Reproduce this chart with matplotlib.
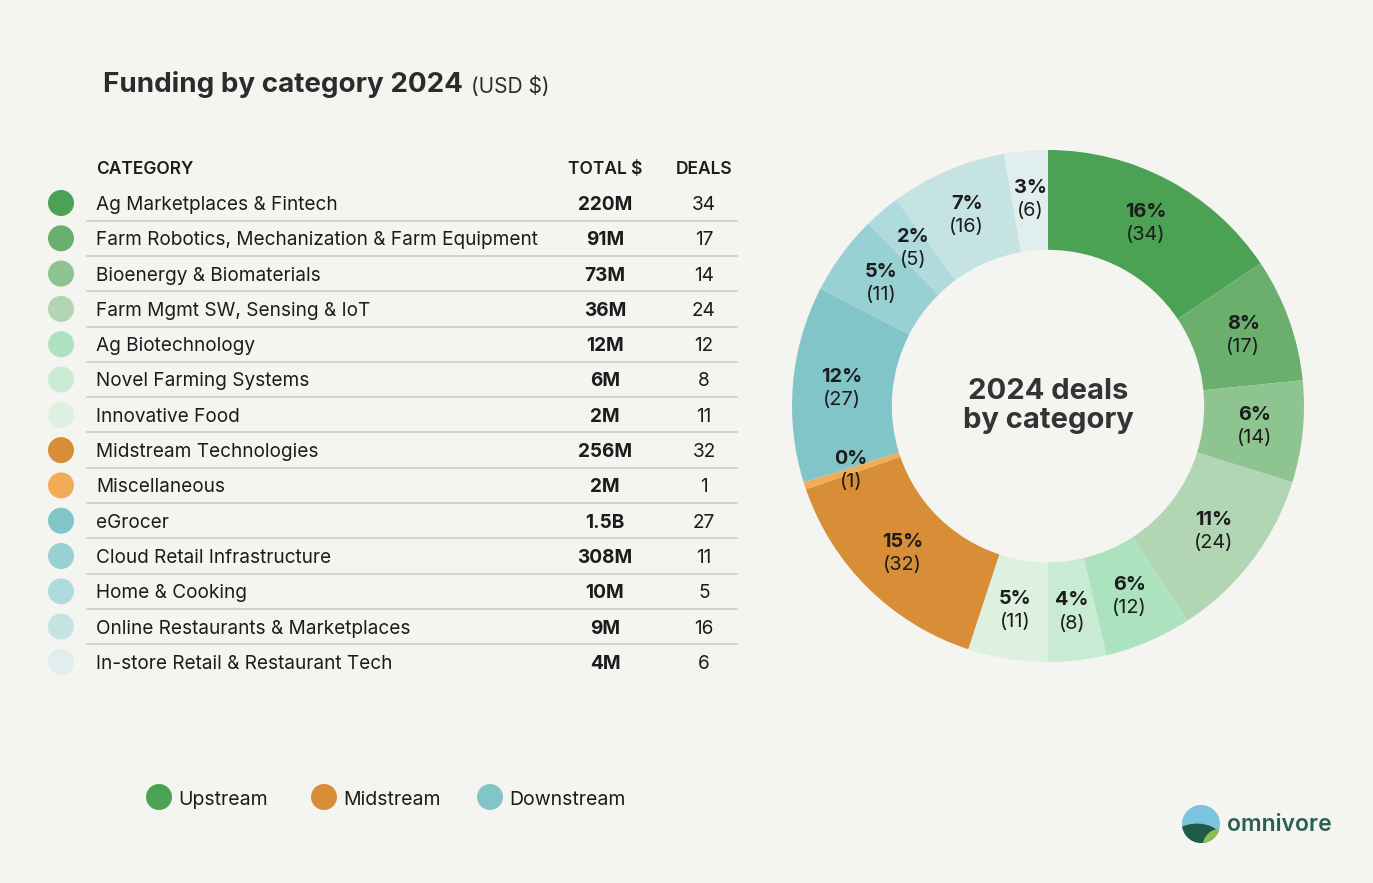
import matplotlib.pyplot as plt
from matplotlib.patches import Circle, Ellipse
import numpy as np

plt.rcParams['font.family'] = ['Inter', 'DejaVu Sans']

# data
categories = ['Ag Marketplaces & Fintech',
              'Farm Robotics, Mechanization & Farm Equipment',
              'Bioenergy & Biomaterials',
              'Farm Mgmt SW, Sensing & IoT',
              'Ag Biotechnology',
              'Novel Farming Systems',
              'Innovative Food',
              'Midstream Technologies',
              'Miscellaneous',
              'eGrocer',
              'Cloud Retail Infrastructure',
              'Home & Cooking',
              'Online Restaurants & Marketplaces',
              'In-store Retail & Restaurant Tech']
totals = ['220M', '91M', '73M', '36M', '12M', '6M', '2M',
          '256M', '2M', '1.5B', '308M', '10M', '9M', '4M']
deals = [34, 17, 14, 24, 12, 8, 11, 32, 1, 27, 11, 5, 16, 6]
colors = ['#4ba254', '#6aaf6e', '#8ec48f', '#b2d5b3', '#ade2bf', '#c9ebd3', '#def1e1',
          '#d88e37', '#f2ac55',
          '#82c5c8', '#98d0d3', '#afdbde', '#c6e3e4', '#e0eeee']
streams = ['Upstream', 'Midstream', 'Downstream']
stream_colors = ['#4ba254', '#d88e37', '#82c5c8']

bg = '#f4f4f0'
dark = '#1c1c1c'

fig = plt.figure(figsize=(13.73, 8.83), dpi=100, facecolor=bg)
ax = fig.add_axes([0, 0, 1, 1])
ax.set_xlim(0, 1373)
ax.set_ylim(883, 0)
ax.axis('off')

# title
t = ax.text(103, 84, 'Funding by category 2024', fontsize=20, fontweight='bold',
            color='#2b2b2b', va='center')
fig.canvas.draw()
bb = t.get_window_extent()
ax.text(bb.x1 + 8, 86, '(USD $)', fontsize=15, color='#2b2b2b', va='center')

# table header
ax.text(96, 169, 'CATEGORY', fontsize=12.5, fontweight='semibold', color=dark, va='center')
ax.text(605, 169, 'TOTAL $', fontsize=12.5, fontweight='semibold', color=dark,
        va='center', ha='center')
ax.text(704, 169, 'DEALS', fontsize=12.5, fontweight='semibold', color=dark,
        va='center', ha='center')

row0, step = 203, 35.3
for i, (cat, tot, d, c) in enumerate(zip(categories, totals, deals, colors)):
    y = row0 + i * step
    ax.add_patch(Circle((61, y), 13, color=c, lw=0))
    ax.text(96, y + 2, cat, fontsize=13.7, color=dark, va='center')
    ax.text(605, y + 2, tot, fontsize=13.7, fontweight='bold', color=dark,
            va='center', ha='center')
    ax.text(704, y + 2, str(d), fontsize=13.7, color=dark, va='center', ha='center')
    if i < len(categories) - 1:
        ax.plot([87, 737], [y + step / 2, y + step / 2], color='#c9c9c6', lw=1.1)

# legend
for x, name, c in zip([159, 324, 490], streams, stream_colors):
    ax.add_patch(Circle((x, 797), 13, color=c, lw=0))
    ax.text(x + 19, 800, name, fontsize=14, color=dark, va='center')

# logo
lc = Circle((1201, 824), 19, color='#7cc4de', lw=0)
ax.add_patch(lc)
hill = Ellipse((1194, 850), 64, 52, angle=-15, color='#1f5a48', lw=0)
ax.add_patch(hill)
hill.set_clip_path(lc)
hill2 = Ellipse((1223, 851), 40, 46, angle=-30, color='#8dbf4a', lw=0)
ax.add_patch(hill2)
hill2.set_clip_path(lc)
ax.text(1227, 825, 'omnivore', fontsize=16.5, fontweight='semibold', color='#2d5f50',
        va='center')

# donut
cx, cy, r = 1048, 406, 256
W, H = 1373, 883
dax = fig.add_axes([(cx - r) / W, (H - cy - r) / H, 2 * r / W, 2 * r / H])
wedges, _ = dax.pie(deals, colors=colors, startangle=90, counterclock=False,
                    radius=1, wedgeprops=dict(width=0.39, linewidth=0))
dax.set_xlim(-1, 1)
dax.set_ylim(-1, 1)
dax.set_aspect('equal')
dax.axis('off')

total = sum(deals)
for w, d in zip(wedges, deals):
    ang = np.deg2rad((w.theta1 + w.theta2) / 2)
    x, y = 0.81 * np.cos(ang), 0.81 * np.sin(ang)
    dax.text(x, y + 0.045, '{}%'.format(round(d / total * 100)), fontsize=14.3,
             fontweight='bold', color=dark, ha='center', va='center')
    dax.text(x, y - 0.045, '({})'.format(d), fontsize=14.3, color=dark,
             ha='center', va='center')

dax.text(0, 0, '2024 deals\nby category', fontsize=21, fontweight='bold',
         color='#333333', ha='center', va='center', linespacing=1.1)

fig.savefig('out.png', dpi=100, facecolor=bg)
